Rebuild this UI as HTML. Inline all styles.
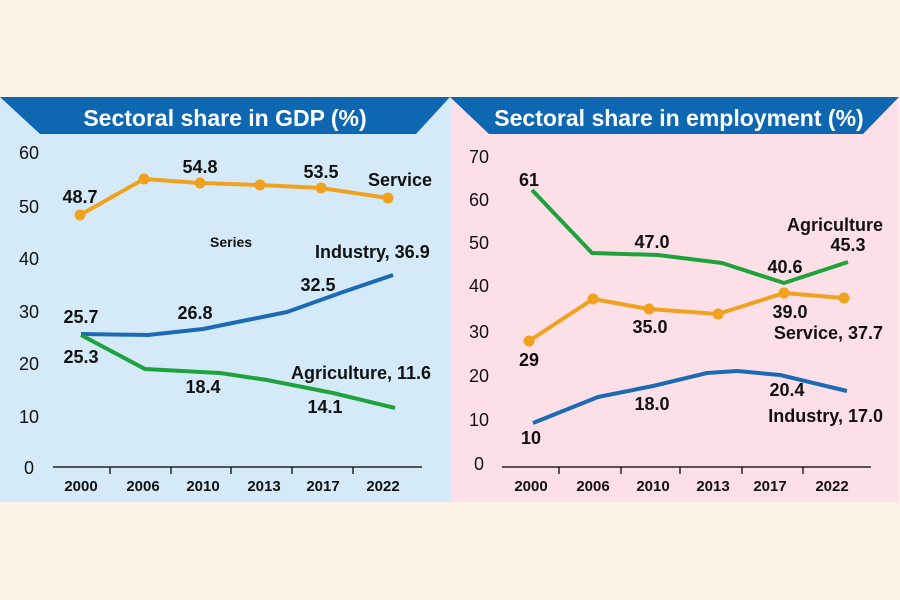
<!DOCTYPE html>
<html><head><meta charset="utf-8"><style>
html,body{margin:0;padding:0;background:#fdf3e7;}
svg{display:block;}
text{font-family:"Liberation Sans",Arial,sans-serif;}
.t{font-size:18px;fill:#111;}
.b{font-size:18px;font-weight:bold;fill:#111;}
.y{font-size:15px;font-weight:bold;fill:#111;text-anchor:middle;}
.h{font-size:23px;font-weight:bold;fill:#fff;text-anchor:middle;}
</style></head><body>
<svg width="900" height="600" viewBox="0 0 900 600" xmlns="http://www.w3.org/2000/svg">
<rect width="900" height="600" fill="#fdf3e7"/>
<rect x="0" y="97" width="451" height="405" fill="#d5eaf8"/>
<rect x="451" y="97" width="448" height="405" fill="#fde0e7"/>
<polygon points="0,97 450,97 416,134 40,134" fill="#0e67b1"/>
<polygon points="450,97 899,97 863,134 489,134" fill="#0e67b1"/>
<text class="h" x="225" y="126">Sectoral share in GDP (%)</text>
<text class="h" x="679" y="126">Sectoral share in employment (%)</text>

<!-- Left panel -->
<g class="t" text-anchor="middle">
<text x="29" y="159">60</text><text x="29" y="213">50</text><text x="29" y="265">40</text>
<text x="29" y="318">30</text><text x="29" y="370">20</text><text x="29" y="423">10</text><text x="29" y="474">0</text>
</g>
<line x1="53" y1="467" x2="422" y2="467" stroke="#222" stroke-width="1.5"/>
<g stroke="#222" stroke-width="1.5">
<line x1="110" y1="467" x2="110" y2="474"/><line x1="171" y1="467" x2="171" y2="474"/>
<line x1="231" y1="467" x2="231" y2="474"/><line x1="292" y1="467" x2="292" y2="474"/>
<line x1="353" y1="467" x2="353" y2="474"/>
</g>
<text class="y" x="81" y="491">2000</text><text class="y" x="143" y="491">2006</text>
<text class="y" x="203" y="491">2010</text><text class="y" x="264" y="491">2013</text>
<text class="y" x="323" y="491">2017</text><text class="y" x="383" y="491">2022</text>

<polyline points="81,334 148,335 203,329 287,312 343,292 393,275" fill="none" stroke="#1b6ab3" stroke-width="4" stroke-linejoin="round"/>
<polyline points="81,335 145,369 220,373 267,380 333,393 395,408" fill="none" stroke="#1ea33c" stroke-width="4" stroke-linejoin="round"/>
<polyline points="80,215 144,179 200,183 260,185 321,188 388,198" fill="none" stroke="#f0a21e" stroke-width="4" stroke-linejoin="round"/>
<g fill="#f0a21e">
<circle cx="80" cy="215" r="5.5"/><circle cx="144" cy="179" r="5.5"/><circle cx="200" cy="183" r="5.5"/>
<circle cx="260" cy="185" r="5.5"/><circle cx="321" cy="188" r="5.5"/><circle cx="388" cy="198" r="5.5"/>
</g>
<g class="b" text-anchor="middle">
<text x="80" y="203">48.7</text><text x="200" y="173">54.8</text><text x="321" y="178">53.5</text>
<text x="318" y="291">32.5</text><text x="81" y="323">25.7</text><text x="195" y="319">26.8</text>
<text x="81" y="363">25.3</text><text x="203" y="393">18.4</text><text x="325" y="413">14.1</text>
</g>
<text class="b" x="368" y="186">Service</text>
<text x="210" y="247" style="font-size:14px;font-weight:bold;fill:#111">Series</text>
<text class="b" x="315" y="258">Industry, 36.9</text>
<text class="b" x="291" y="379">Agriculture, 11.6</text>

<!-- Right panel -->
<g class="t" text-anchor="middle">
<text x="479" y="163">70</text><text x="479" y="206">60</text><text x="479" y="249">50</text>
<text x="479" y="292">40</text><text x="479" y="338">30</text><text x="479" y="382">20</text>
<text x="479" y="426">10</text><text x="479" y="470">0</text>
</g>
<line x1="502" y1="467" x2="871" y2="467" stroke="#222" stroke-width="1.5"/>
<g stroke="#222" stroke-width="1.5">
<line x1="559" y1="467" x2="559" y2="474"/><line x1="621" y1="467" x2="621" y2="474"/>
<line x1="680" y1="467" x2="680" y2="474"/><line x1="742" y1="467" x2="742" y2="474"/>
<line x1="803" y1="467" x2="803" y2="474"/>
</g>
<text class="y" x="531" y="491">2000</text><text class="y" x="593" y="491">2006</text>
<text class="y" x="653" y="491">2010</text><text class="y" x="713" y="491">2013</text>
<text class="y" x="770" y="491">2017</text><text class="y" x="832" y="491">2022</text>

<polyline points="533,423 598,397 653,386 707,373 737,371 780,375 847,391" fill="none" stroke="#1b6ab3" stroke-width="4" stroke-linejoin="round"/>
<polyline points="532,190 592,253 658,255 722,263 784,283 848,262" fill="none" stroke="#1ea33c" stroke-width="4" stroke-linejoin="round"/>
<polyline points="529,341 593,299 649,309 718,314 784,293 844,298" fill="none" stroke="#f0a21e" stroke-width="4" stroke-linejoin="round"/>
<g fill="#f0a21e">
<circle cx="529" cy="341" r="5.5"/><circle cx="593" cy="299" r="5.5"/><circle cx="649" cy="309" r="5.5"/>
<circle cx="718" cy="314" r="5.5"/><circle cx="784" cy="293" r="5.5"/><circle cx="844" cy="298" r="5.5"/>
</g>
<g class="b" text-anchor="middle">
<text x="529" y="186">61</text><text x="652" y="248">47.0</text><text x="848" y="251">45.3</text>
<text x="785" y="273">40.6</text><text x="790" y="318">39.0</text><text x="650" y="333">35.0</text>
<text x="529" y="366">29</text><text x="787" y="396">20.4</text><text x="652" y="410">18.0</text>
<text x="531" y="444">10</text>
</g>
<text class="b" x="883" y="231" text-anchor="end">Agriculture</text>
<text class="b" x="883" y="339" text-anchor="end">Service, 37.7</text>
<text class="b" x="883" y="422" text-anchor="end">Industry, 17.0</text>
</svg>
</body></html>
